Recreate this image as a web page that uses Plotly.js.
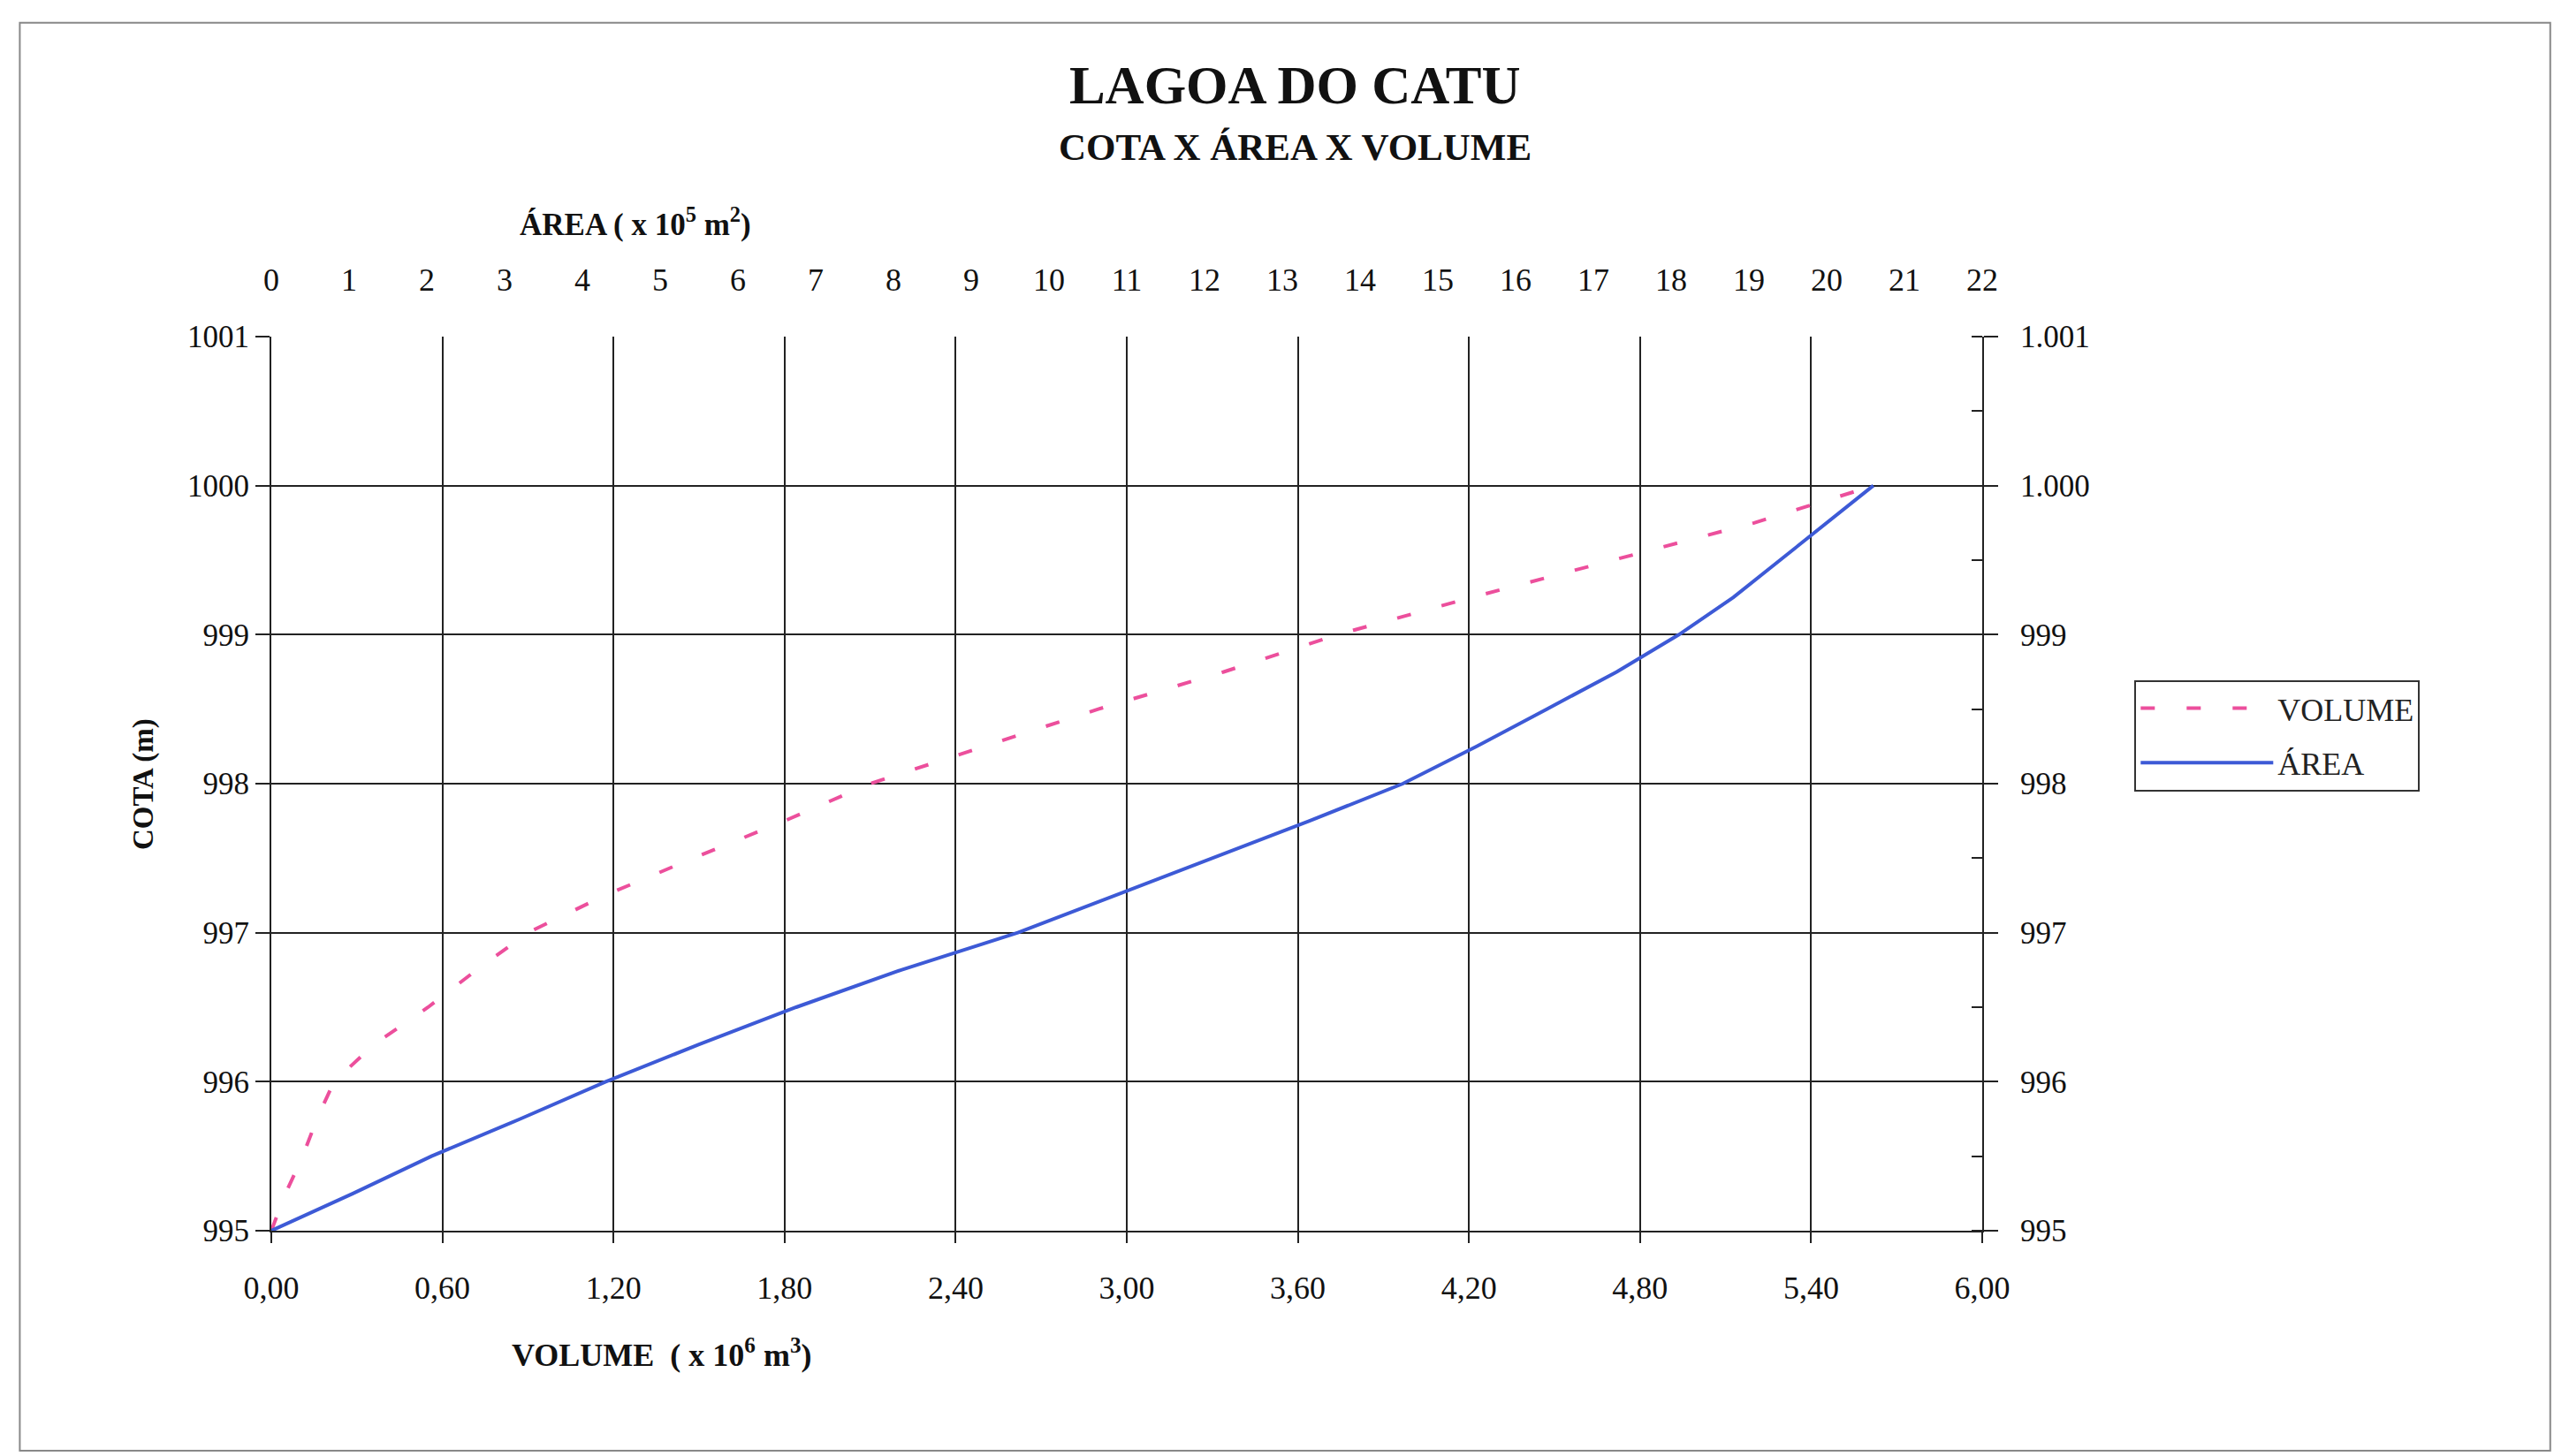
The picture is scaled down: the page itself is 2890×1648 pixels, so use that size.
<!DOCTYPE html>
<html>
<head>
<meta charset="utf-8">
<script src="https://cdn.plot.ly/plotly-3.0.1.min.js"></script>
<style>html,body{margin:0;padding:0;background:#fff;}</style>
</head>
<body>
<div id="chart" style="width:2890px;height:1648px;"></div>
<script>
// Cota (m)
const cota = [995, 995.25, 995.5, 995.75, 996, 996.25, 996.5, 996.75, 997, 997.25, 997.5,
              997.75, 998, 998.25, 998.5, 998.75, 999, 999.25, 999.5, 999.75, 1000];
// Volume (x 10^6 m3)
const volume = [0, 0.05, 0.11, 0.16, 0.22, 0.36, 0.55, 0.72, 0.90, 1.17, 1.48,
                1.80, 2.10, 2.50, 2.90, 3.34, 3.74, 4.21, 4.70, 5.20, 5.62];
// Área (x 10^5 m2)
const area = [0, 1.05, 2.06, 3.2, 4.3, 5.5, 6.75, 8.1, 9.6, 10.85, 12.1,
              13.35, 14.55, 15.5, 16.4, 17.3, 18.1, 18.8, 19.4, 20.0, 20.6];

const serif = "Liberation Serif, Times New Roman, serif";

const traces = [
  {
    x: volume, y: cota, xaxis: 'x', yaxis: 'y', type: 'scatter', mode: 'lines',
    name: 'VOLUME', legendgroup: 'v',
    line: {color: '#ec4f9c', width: 4, dash: '16px,36px'}
  },
  {
    x: area, y: cota, xaxis: 'x2', yaxis: 'y2', type: 'scatter', mode: 'lines',
    name: 'ÁREA', legendgroup: 'a',
    line: {color: '#3d5ad6', width: 4}
  }
];

const layout = {
  width: 2890, height: 1648,
  paper_bgcolor: '#ffffff', plot_bgcolor: '#ffffff',
  separators: ',.',
  margin: {l: 307, r: 647, t: 381, b: 255},
  font: {family: serif, color: '#000', size: 36},
  title: {
    text: '<b>LAGOA DO CATU</b>',
    font: {family: serif, size: 61, color: '#111'},
    x: 0.507, xanchor: 'center', xref: 'container',
    y: 1 - 96/1648, yanchor: 'middle', yref: 'container'
  },
  showlegend: true,
  legend: {
    x: 1.089, xanchor: 'left', y: 0.616, yanchor: 'top',
    bordercolor: '#333', borderwidth: 2, bgcolor: '#fff',
    font: {family: serif, size: 36, color: '#222'},
    itemwidth: 150, tracegroupgap: 12
  },
  xaxis: {
    range: [0, 6], tick0: 0, dtick: 0.6, tickformat: '.2f',
    showgrid: true, gridcolor: '#222', gridwidth: 2,
    zeroline: false, showline: true, linecolor: '#222', linewidth: 2,
    ticks: 'outside', ticklen: 12, tickcolor: '#222', tickwidth: 2,
    ticklabelstandoff: 20,
    tickfont: {family: serif, size: 36, color: '#111'}
  },
  xaxis2: {
    overlaying: 'x', side: 'top', anchor: 'y2',
    range: [0, 22], tick0: 0, dtick: 1, tickformat: 'd',
    showgrid: false, zeroline: false, showline: false,
    ticks: '', ticklabelstandoff: 44,
    tickfont: {family: serif, size: 36, color: '#111'}
  },
  yaxis: {
    range: [995, 1001], tick0: 995, dtick: 1, tickformat: 'd',
    showgrid: false, zeroline: false,
    showline: true, linecolor: '#222', linewidth: 2,
    ticks: 'outside', ticklen: 16, tickcolor: '#222', tickwidth: 2,
    tickfont: {family: serif, size: 35, color: '#111'},
    minor: {tickvals: [996, 997, 998, 999, 1000], showgrid: true, gridcolor: '#222', gridwidth: 2, ticks: ''}
  },
  yaxis2: {
    overlaying: 'y', side: 'right', anchor: 'x2',
    range: [995, 1001], tick0: 995, dtick: 1, tickformat: ',d',
    showgrid: false, zeroline: false,
    showline: true, linecolor: '#222', linewidth: 2,
    ticks: 'outside', ticklen: 16, tickcolor: '#222', tickwidth: 2,
    ticklabelstandoff: 18,
    tickfont: {family: serif, size: 35, color: '#111'},
    minor: {dtick: 0.5, ticks: 'inside', ticklen: 12, tickcolor: '#222', tickwidth: 2}
  },
  annotations: [
    {
      text: '<b>COTA X ÁREA X VOLUME</b>',
      xref: 'paper', yref: 'paper', x: (1465 - 307) / 1936, y: (1393 - 166) / 1012,
      xanchor: 'center', yanchor: 'middle', showarrow: false,
      font: {family: serif, size: 43, color: '#111'}
    },
    {
      text: '<b>ÁREA ( x 10<sup>5</sup> m<sup>2</sup>)</b>',
      xref: 'paper', yref: 'paper', x: 0.213, y: 1.1275,
      xanchor: 'center', yanchor: 'middle', showarrow: false,
      font: {family: serif, size: 35, color: '#111'}
    },
    {
      text: '<b>VOLUME  ( x 10<sup>6</sup> m<sup>3</sup>)</b>',
      xref: 'paper', yref: 'paper', x: 0.228, y: -0.137,
      xanchor: 'center', yanchor: 'middle', showarrow: false,
      font: {family: serif, size: 36, color: '#111'}
    },
    {
      text: '<b>COTA (m)</b>',
      xref: 'paper', yref: 'paper', x: -0.0749, y: 0.5, textangle: -90,
      xanchor: 'center', yanchor: 'middle', showarrow: false,
      font: {family: serif, size: 33, color: '#111'}
    }
  ],
  shapes: [
    {
      type: 'rect', xref: 'paper', yref: 'paper', layer: 'below',
      x0: -0.147, x1: 1.332, y0: -0.246, y1: 1.351,
      line: {color: '#888', width: 2}, fillcolor: 'rgba(0,0,0,0)'
    }
  ]
};

Plotly.newPlot('chart', traces, layout, {displayModeBar: false, responsive: false});
</script>
</body>
</html>
